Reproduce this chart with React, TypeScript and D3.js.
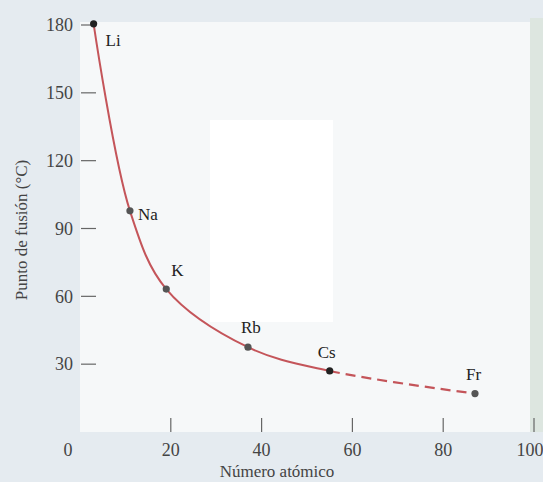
import React from "react";
import * as d3 from "d3";

const elements = ["Li", "Na", "K", "Rb", "Cs", "Fr"];
const atomicNumbers = [3, 11, 19, 37, 55, 87];
const meltingPoints = [180.5, 97.8, 63.2, 37.5, 27, 17];
const xTicks = [0, 20, 40, 60, 80, 100];
const yTicks = [30, 60, 90, 120, 150, 180];
const labelOffsets: [number, number][] = [
  [12, 22],
  [8, 9],
  [5, -13],
  [-7, -14],
  [-12, -13],
  [-9, -14],
];

const W = 543;
const H = 482;

export default function App() {
  const x = d3.scaleLinear().domain([0, 100]).range([80, 534]);
  const y = d3.scaleLinear().domain([0, 180]).range([432, 25]);
  const pts = atomicNumbers.map((a, i) => ({ a, v: meltingPoints[i], name: elements[i] }));
  const line = d3
    .line<{ a: number; v: number }>()
    .x((d) => x(d.a))
    .y((d) => y(d.v))
    .curve(d3.curveCatmullRom.alpha(0.5));
  const path = line(pts) || "";
  const xCs = x(55);
  const serif = "Liberation Serif, Times New Roman, DejaVu Serif, serif";
  const red = "#c4555a";

  return (
    <svg
      width={W}
      height={H}
      style={{ position: "absolute", left: 0, top: 0, display: "block" }}
    >
      <defs>
        <clipPath id="solidClip">
          <rect x={0} y={0} width={xCs} height={H} />
        </clipPath>
        <clipPath id="dashClip">
          <rect x={xCs} y={0} width={W - xCs} height={H} />
        </clipPath>
      </defs>
      {/* backgrounds */}
      <rect x={0} y={0} width={W} height={H} fill="#e5ebf0" />
      <rect x={x(0)} y={22} width={530 - x(0)} height={y(0) - 22} fill="#f6f8f9" />
      <rect x={530} y={18} width={W - 530} height={y(0) - 18} fill="#dde6e0" />
      <rect x={210} y={120} width={123} height={202} fill="#ffffff" />

      {/* y ticks */}
      {yTicks.map((t) => (
        <g key={"y" + t}>
          <line x1={x(0) + 1} x2={x(0) + 16} y1={y(t)} y2={y(t)} stroke="#666" strokeWidth={1.2} />
          <text
            x={73}
            y={y(t)}
            dy="0.35em"
            textAnchor="end"
            fontFamily={serif}
            fontSize={18}
            fill="#444"
          >
            {t}
          </text>
        </g>
      ))}

      {/* x ticks */}
      {xTicks.map((t) => (
        <g key={"x" + t}>
          {t > 0 && (
            <line x1={x(t)} x2={x(t)} y1={y(0)} y2={y(0) - 14} stroke="#666" strokeWidth={1.2} />
          )}
          <text
            x={x(t)}
            dx={t === 0 ? -12 : t === 100 ? -4 : 0}
            y={456}
            textAnchor="middle"
            fontFamily={serif}
            fontSize={18}
            fill="#444"
          >
            {t}
          </text>
        </g>
      ))}

      {/* axis titles */}
      <text x={277} y={477} textAnchor="middle" fontFamily={serif} fontSize={17} fill="#444">
        Número atómico
      </text>
      <text
        transform={`translate(27,230) rotate(-90)`}
        textAnchor="middle"
        fontFamily={serif}
        fontSize={17}
        fill="#444"
      >
        Punto de fusión (°C)
      </text>

      {/* curve */}
      <path d={path} fill="none" stroke={red} strokeWidth={2} clipPath="url(#solidClip)" />
      <path
        d={path}
        fill="none"
        stroke={red}
        strokeWidth={2.2}
        strokeDasharray="10 6"
        clipPath="url(#dashClip)"
      />

      {/* points and labels */}
      {pts.map((p, i) => (
        <g key={p.name}>
          <circle cx={x(p.a)} cy={y(p.v)} r={3.6} fill={i === 0 || i === 4 ? "#222" : "#555"} />
          <text
            x={x(p.a) + labelOffsets[i][0]}
            y={y(p.v) + labelOffsets[i][1]}
            fontFamily={serif}
            fontSize={17}
            fill="#222"
          >
            {p.name}
          </text>
        </g>
      ))}
    </svg>
  );
}
